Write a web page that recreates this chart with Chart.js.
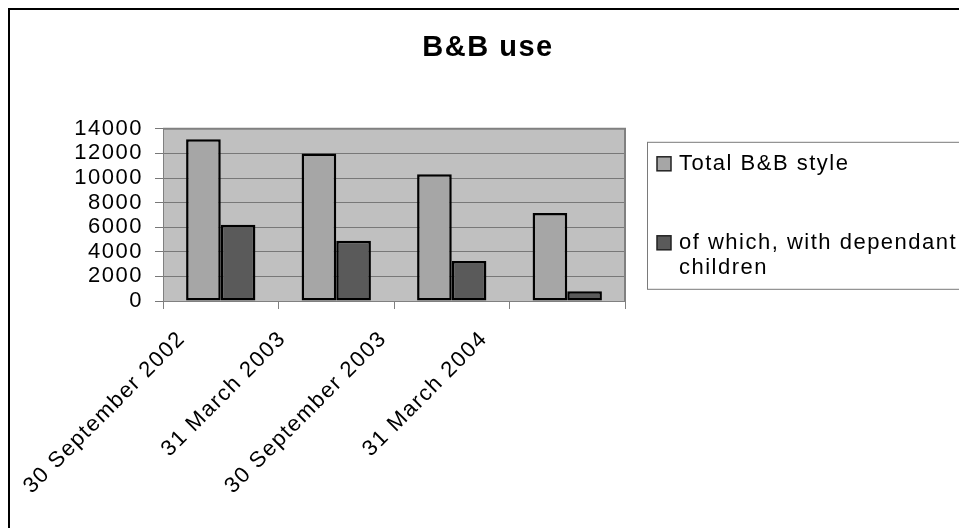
<!DOCTYPE html>
<html>
<head>
<meta charset="utf-8">
<title>B&amp;B use</title>
<script src="https://cdn.jsdelivr.net/npm/chart.js@4/dist/chart.umd.min.js"></script>
<style>
  html, body { margin: 0; padding: 0; background: #fff; }
  #wrap { width: 959px; height: 528px; position: relative; }
</style>
</head>
<body>
<div id="wrap"><canvas id="chart"></canvas></div>
<script>
// Snapshot dates (category axis)
const periodLabels = ['30 September 2002', '31 March 2003', '30 September 2003', '31 March 2004'];
// Households in B&B style accommodation
const totalBB = [13150, 12000, 10300, 7150];
// ...of which households with dependant children
const withChildren = [6200, 4900, 3250, 800];
const seriesNames = ['Total B&B style', 'of which, with dependant children'];
// Value axis range
const yMin = 0;
const yMax = 14000;
const yStep = 2000;

const FONT = "'Liberation Sans', Arial, Helvetica, sans-serif";

// Slightly wider text tracking, applied to every label the chart draws
const tracking = {
  id: 'tracking',
  beforeLayout(chart) { chart.ctx.letterSpacing = '1.5px'; },
  beforeDraw(chart) { chart.ctx.letterSpacing = '1.5px'; }
};

// Page frame, grey plot background
const frame = {
  id: 'frame',
  beforeDraw(chart) {
    const { ctx, chartArea: a } = chart;
    ctx.save();
    ctx.fillStyle = '#ffffff';
    ctx.fillRect(0, 0, chart.width, chart.height);
    ctx.strokeStyle = '#000000';
    ctx.lineWidth = 2;
    ctx.strokeRect(9, 9, chart.width + 40, chart.height + 40);
    ctx.fillStyle = '#c0c0c0';
    ctx.fillRect(a.left, a.top, a.right - a.left, a.bottom - a.top);
    ctx.restore();
  },
  beforeDatasetsDraw(chart) {
    const { ctx, chartArea: a } = chart;
    ctx.save();
    ctx.strokeStyle = '#808080';
    ctx.lineWidth = 2;
    ctx.beginPath();
    ctx.moveTo(a.left, a.top);
    ctx.lineTo(a.right, a.top);
    ctx.lineTo(a.right, a.bottom);
    ctx.stroke();
    ctx.restore();
  }
};

// Boxed legend to the right of the plot, with wrapped series names
const boxLegend = {
  id: 'boxLegend',
  afterDraw(chart) {
    const { ctx, chartArea: a } = chart;
    const bx = a.right + 22, by = a.top + 13, bh = 147;
    ctx.save();
    ctx.letterSpacing = '1.5px';
    ctx.strokeStyle = '#7a7a7a';
    ctx.lineWidth = 1;
    ctx.strokeRect(bx + 0.5, by + 0.5, chart.width, bh);
    ctx.font = '22px ' + FONT;
    ctx.textBaseline = 'middle';
    ctx.textAlign = 'left';
    const centers = [by + 22, by + 101];
    const lineH = 25;
    chart.data.datasets.forEach((ds, i) => {
      const cy = centers[i];
      ctx.fillStyle = ds.backgroundColor;
      ctx.fillRect(bx + 10, cy - 7, 14, 14);
      ctx.strokeStyle = '#222';
      ctx.lineWidth = 1.5;
      ctx.strokeRect(bx + 10, cy - 7, 14, 14);
      // wrap words to the space left in the canvas
      const tx = bx + 32;
      const maxW = chart.width - tx + 6;
      const words = ds.label.split(' ');
      const lines = [];
      let cur = '';
      words.forEach(w => {
        const t = cur ? cur + ' ' + w : w;
        if (cur && ctx.measureText(t).width > maxW) { lines.push(cur); cur = w; }
        else cur = t;
      });
      if (cur) lines.push(cur);
      ctx.fillStyle = '#000';
      lines.forEach((ln, k) => ctx.fillText(ln, tx, cy + k * lineH));
    });
    ctx.restore();
  }
};

new Chart(document.getElementById('chart'), {
  type: 'bar',
  data: {
    labels: periodLabels,
    datasets: [
      {
        label: seriesNames[0],
        data: totalBB,
        backgroundColor: '#a6a6a6',
        borderColor: '#000000',
        borderWidth: 2.5,
        borderSkipped: false,
        categoryPercentage: 0.6,
        barPercentage: 1.0
      },
      {
        label: seriesNames[1],
        data: withChildren,
        backgroundColor: '#5a5a5a',
        borderColor: '#000000',
        borderWidth: 2.5,
        borderSkipped: false,
        categoryPercentage: 0.6,
        barPercentage: 1.0
      }
    ]
  },
  options: {
    responsive: true,
    maintainAspectRatio: false,
    devicePixelRatio: 1,
    animation: false,
    events: [],
    layout: { padding: { left: 17, right: 0, top: 0, bottom: 0 } },
    plugins: {
      legend: { display: false },
      tooltip: { enabled: false },
      title: {
        display: true,
        text: 'B&B use',
        color: '#000000',
        font: { family: FONT, size: 29, weight: 'bold' },
        padding: { top: 31, bottom: 63 }
      }
    },
    scales: {
      x: {
        type: 'category',
        position: 'bottom',
        weight: 0,
        grid: {
          display: true,
          drawOnChartArea: false,
          drawTicks: true,
          tickLength: 8,
          color: '#808080',
          offset: true
        },
        border: { display: true, color: '#808080', width: 1 },
        ticks: { display: false },
        afterFit(s) { s.height = 8; }
      },
      xLabels: {
        type: 'linear',
        position: 'bottom',
        weight: 1,
        offset: false,
        bounds: 'data',
        min: -0.189,
        max: 4.399,
        grid: { display: false, offset: false },
        border: { display: false },
        ticks: {
          color: '#000000',
          font: { family: FONT, size: 22 },
          minRotation: 45,
          maxRotation: 45,
          autoSkip: false,
          padding: 9,
          callback: (v) => periodLabels[v] ?? ''
        },
        afterBuildTicks(s) { s.ticks = periodLabels.map((_, i) => ({ value: i })); },
        afterFit(s) { s.height = 219; }
      },
      y: {
        type: 'linear',
        position: 'left',
        min: yMin,
        max: yMax,
        ticks: {
          stepSize: yStep,
          autoSkip: false,
          color: '#000000',
          font: { family: FONT, size: 22 },
          padding: 12,
          callback: (v) => String(v)
        },
        grid: { color: '#787878', lineWidth: 1, drawTicks: true, tickLength: 8 },
        border: { display: true, color: '#808080', width: 1 },
        afterFit(s) { s.width = 146; }
      },
      legendSpace: {
        type: 'linear',
        position: 'right',
        grid: { display: false },
        border: { display: false },
        ticks: { display: false },
        afterFit(s) { s.width = 334; }
      }
    }
  },
  plugins: [tracking, frame, boxLegend]
});
</script>
</body>
</html>
